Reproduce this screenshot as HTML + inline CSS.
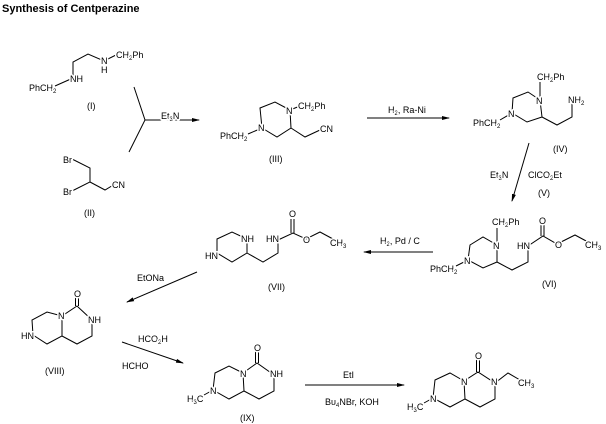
<!DOCTYPE html>
<html><head><meta charset="utf-8"><style>
html,body{margin:0;padding:0;background:#fff;}
svg{display:block;}
text{font-family:"Liberation Sans",Arial,sans-serif;font-size:9px;fill:#000;paint-order:stroke;stroke:#fff;stroke-width:3px;stroke-linejoin:round;}
.s{font-size:6px;}
.t{font-size:11px;font-weight:bold;stroke:none;}
line,polyline{stroke:#000;stroke-width:1;fill:none;}
</style></head><body>
<svg width="606" height="424" viewBox="0 0 606 424" xmlns="http://www.w3.org/2000/svg">
<defs><marker id="a" markerWidth="8" markerHeight="6" refX="7" refY="3" orient="auto" markerUnits="userSpaceOnUse"><path d="M0,1 L8,3 L0,5 Z" fill="#000"/></marker></defs>
<text class="t" x="2" y="12">Synthesis of Centperazine</text>

<!-- I -->
<polyline points="55,86 73,78 73,62 88,54 104,61 118,54"/>
<text x="70" y="82">NH</text>
<text x="101" y="64">N</text>
<text x="101" y="73">H</text>
<text x="116" y="58">CH<tspan class="s" dy="2">2</tspan><tspan dy="-2">Ph</tspan></text>
<text x="29" y="91">PhCH<tspan class="s" dy="2">2</tspan></text>
<text x="87" y="109">(I)</text>

<!-- II -->
<polyline points="72,159 90,168 90,182 72,191"/>
<polyline points="90,182 105,190 115,184"/>
<text x="63" y="163">Br</text>
<text x="63" y="195">Br</text>
<text x="112" y="188">CN</text>
<text x="84" y="216">(II)</text>

<!-- bracket arrow -->
<polyline points="134,87 145,120 129,152"/>
<line x1="145" y1="120" x2="199" y2="120" marker-end="url(#a)"/>
<text x="161" y="119">Et<tspan class="s" dy="2">3</tspan><tspan dy="-2">N</tspan></text>

<!-- III -->
<polyline points="290,110 275,102 260,108 262,128 277,137 291,128 290,110"/>
<polyline points="291,128 305,137 320,130"/>
<line x1="290" y1="110" x2="300" y2="106"/>
<line x1="262" y1="128" x2="248" y2="134"/>
<text x="286" y="114">N</text>
<text x="258" y="131">N</text>
<text x="298" y="109">CH<tspan class="s" dy="2">2</tspan><tspan dy="-2">Ph</tspan></text>
<text x="320" y="132">CN</text>
<text x="220" y="139">PhCH<tspan class="s" dy="2">2</tspan></text>
<text x="269" y="162">(III)</text>

<line x1="367" y1="118" x2="449" y2="118" marker-end="url(#a)"/>
<text x="388" y="113">H<tspan class="s" dy="2">2</tspan><tspan dy="-2">, Ra-Ni</tspan></text>

<!-- IV -->
<polyline points="540,100 528,92 513,98 512,113 527,122 542,117 540,100"/>
<polyline points="542,117 557,125 572,117 572,103"/>
<line x1="540" y1="82" x2="540" y2="100"/>
<line x1="512" y1="113" x2="500" y2="120"/>
<text x="536" y="104">N</text>
<text x="508" y="117">N</text>
<text x="537" y="80">CH<tspan class="s" dy="2">2</tspan><tspan dy="-2">Ph</tspan></text>
<text x="568" y="103">NH<tspan class="s" dy="2">2</tspan></text>
<text x="473" y="126">PhCH<tspan class="s" dy="2">2</tspan></text>
<text x="553" y="152">(IV)</text>

<line x1="529" y1="143" x2="512" y2="201" marker-end="url(#a)"/>
<text x="490" y="178">Et<tspan class="s" dy="2">3</tspan><tspan dy="-2">N</tspan></text>
<text x="528" y="178">ClCO<tspan class="s" dy="2">2</tspan><tspan dy="-2">Et</tspan></text>
<text x="538" y="196">(V)</text>

<!-- VI -->
<polyline points="497,245 483,237 470,245 468,260 483,268 497,262 497,245"/>
<polyline points="497,262 512,270 528,262 528,246 543,236 557,244 575,235 588,242"/>
<line x1="497" y1="228" x2="497" y2="245"/>
<line x1="541" y1="224" x2="541" y2="236"/><line x1="544" y1="224" x2="544" y2="236"/>
<line x1="468" y1="260" x2="456" y2="266"/>
<text x="493" y="249">N</text>
<text x="464" y="264">N</text>
<text x="492" y="225">CH<tspan class="s" dy="2">2</tspan><tspan dy="-2">Ph</tspan></text>
<text x="517" y="249">HN</text>
<text x="539" y="224">O</text>
<text x="555" y="248">O</text>
<text x="585" y="248">CH<tspan class="s" dy="2">3</tspan></text>
<text x="430" y="272">PhCH<tspan class="s" dy="2">2</tspan></text>
<text x="542" y="287">(VI)</text>

<line x1="433" y1="252" x2="364" y2="252" marker-end="url(#a)"/>
<text x="380" y="244">H<tspan class="s" dy="2">2</tspan><tspan dy="-2">, Pd / C</tspan></text>

<!-- VII -->
<polyline points="247,239 232,232 217,239 217,253 232,262 247,253 247,239"/>
<polyline points="247,253 263,262 278,253 278,240 293,233 306,239 320,232 333,239"/>
<line x1="291" y1="219" x2="291" y2="233"/><line x1="294" y1="219" x2="294" y2="233"/>
<text x="241" y="242">NH</text>
<text x="205" y="259">HN</text>
<text x="266" y="242">HN</text>
<text x="289" y="217">O</text>
<text x="303" y="243">O</text>
<text x="330" y="246">CH<tspan class="s" dy="2">3</tspan></text>
<text x="268" y="290">(VII)</text>

<line x1="197" y1="272" x2="127" y2="302" marker-end="url(#a)"/>
<text x="137" y="281">EtONa</text>

<!-- VIII -->
<polyline points="62,316 47,312 32,320 33,335 47,344 62,336 62,316 77,306 92,320 92,336 77,344 62,336"/>
<line x1="75.5" y1="296" x2="75.5" y2="306"/><line x1="78.5" y1="296" x2="78.5" y2="306"/>
<text x="74" y="297">O</text>
<text x="58" y="319">N</text>
<text x="88" y="323">NH</text>
<text x="21" y="339">HN</text>
<text x="45" y="374">(VIII)</text>

<line x1="122" y1="342" x2="183" y2="363" marker-end="url(#a)"/>
<text x="138" y="342">HCO<tspan class="s" dy="2">2</tspan><tspan dy="-2">H</tspan></text>
<text x="122" y="369">HCHO</text>

<!-- IX -->
<polyline points="243,373 229,366 215,373 213,390 229,399 244,391 243,373 257,363 274,375 274,391 259,399 244,391"/>
<line x1="213" y1="390" x2="204" y2="395"/>
<line x1="255.5" y1="351" x2="255.5" y2="363"/><line x1="258.5" y1="351" x2="258.5" y2="363"/>
<text x="254" y="351">O</text>
<text x="240" y="377">N</text>
<text x="270" y="377">NH</text>
<text x="210" y="394">N</text>
<text x="187" y="402">H<tspan class="s" dy="2">3</tspan><tspan dy="-2">C</tspan></text>
<text x="240" y="421">(IX)</text>

<line x1="305" y1="385" x2="404" y2="385" marker-end="url(#a)"/>
<text x="343" y="378">EtI</text>
<text x="325" y="405">Bu<tspan class="s" dy="2">4</tspan><tspan dy="-2">NBr, KOH</tspan></text>

<!-- X -->
<polyline points="464,381 450,373 435,380 433,398 450,407 465,399 464,381 478,372 495,383 495,399 480,407 465,399"/>
<polyline points="495,383 508,373 520,380"/>
<line x1="433" y1="398" x2="424" y2="403"/>
<line x1="476.5" y1="359" x2="476.5" y2="372"/><line x1="479.5" y1="359" x2="479.5" y2="372"/>
<text x="475" y="359">O</text>
<text x="461" y="385">N</text>
<text x="491" y="385">N</text>
<text x="430" y="402">N</text>
<text x="407" y="410">H<tspan class="s" dy="2">3</tspan><tspan dy="-2">C</tspan></text>
<text x="518" y="386">CH<tspan class="s" dy="2">3</tspan></text>
</svg>
</body></html>
